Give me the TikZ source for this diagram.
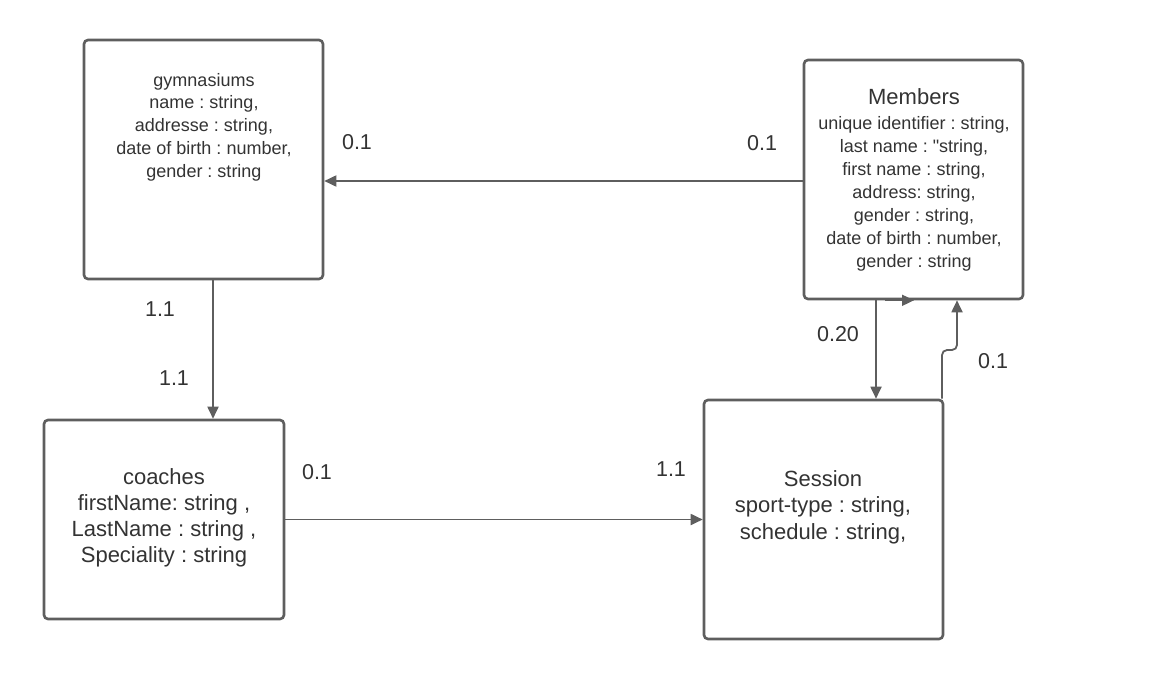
\documentclass[tikz,border=0pt]{standalone}
\usepackage{fontspec}
\setmainfont{Liberation Sans}
\newfontfamily\qfont{Liberation Sans}[Ligatures=TeXOff]
\usetikzlibrary{arrows.meta}
\frenchspacing
\definecolor{edge}{HTML}{5E5E5E}
\definecolor{ink}{HTML}{333333}
\tikzset{
  entity/.style={draw=edge, line width=2.6pt, rounded corners=4pt, fill=white, inner sep=0pt},
  conn/.style={draw=edge, line width=1.8pt, -{Triangle[length=12pt,width=11pt]}},
  txt/.style={text=ink, align=center, inner sep=0pt},
  lbl/.style={text=ink, inner sep=0pt, font=\fontsize{21.5}{24}\selectfont}
}
\begin{document}
\begin{tikzpicture}[x=1pt,y=-1pt]
\useasboundingbox[fill=white] (0,0) rectangle (1155,680);
% boxes
\node[entity, minimum width=239pt, minimum height=239pt] (gym) at (203.5,159.5) {};
\node[entity, minimum width=219pt, minimum height=239pt] (mem) at (913.5,179.5) {};
\node[entity, minimum width=240pt, minimum height=199pt] (coach) at (164,519.5) {};
\node[entity, minimum width=239pt, minimum height=239pt] (ses) at (823.5,519.5) {};
% texts
\node[txt, font=\fontsize{18}{22.8}\selectfont] (gymt) at (204,127) {gymnasiums\\name : string,\\addresse : string,\\date of birth : number,\\gender : string};
\node[txt, font=\fontsize{22}{24}\selectfont] (memtitle) at (914,97) {Members};
\node[txt, font=\fontsize{18}{22.9}\selectfont] (memt) at (914,194) {unique identifier : string,\\last name : {\qfont"}string,\\first name : string,\\address: string,\\gender : string,\\date of birth : number,\\gender : string};
\node[txt, font=\fontsize{22}{26}\selectfont] (coacht) at (164,518) {coaches\\firstName: string ,\\LastName : string ,\\Speciality : string};
\node[txt, font=\fontsize{22}{26.5}\selectfont] (sest) at (823,507) {Session\\sport-type : string,\\schedule : string,};
% helper coordinates
\coordinate (xa) at (213,0);
\coordinate (xb) at (876,0);
\coordinate (xc) at (942,0);
\coordinate (xd) at (957,0);
\coordinate (xe) at (885,0);
\coordinate (xf) at (914,0);
\coordinate (ya) at (0,181);
\coordinate (jog1) at (942,350);
\coordinate (jog2) at (957,350);
% connectors
\draw[conn] (mem.west |- ya) -- (gym.east |- ya);
\draw[conn] (gym.south -| xa) -- (coach.north -| xa);
\draw[conn] (coach.east) -- (ses.west);
\draw[conn] (mem.south -| xb) -- (ses.north -| xb);
\draw[conn, rounded corners=5pt] (ses.north -| xc) -- (jog1) -- (jog2) -- (mem.south -| xd);
\draw[conn] (mem.south -| xe) -- (mem.south -| xf);
% labels
\node[lbl] (l1) at (357,142) {0.1};
\node[lbl] (l2) at (762,143) {0.1};
\node[lbl] (l3) at (160,309) {1.1};
\node[lbl] (l4) at (174,378) {1.1};
\node[lbl] (l5) at (317,472) {0.1};
\node[lbl] (l6) at (671,469) {1.1};
\node[lbl] (l7) at (838,334) {0.20};
\node[lbl] (l8) at (993,361) {0.1};
\end{tikzpicture}
\end{document}
